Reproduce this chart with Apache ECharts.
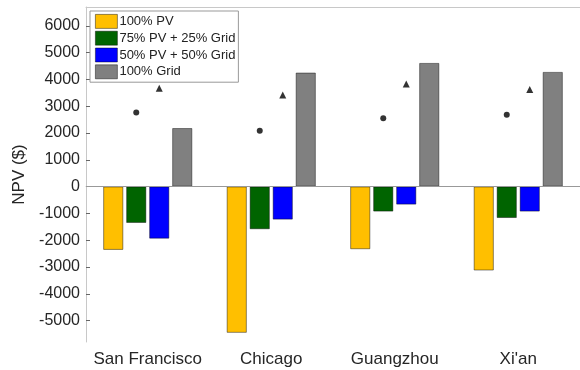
<!DOCTYPE html>
<html>
<head>
<meta charset="utf-8">
<script src="https://cdn.jsdelivr.net/npm/echarts@6/dist/echarts.min.js"></script>
<style>html,body{margin:0;padding:0;background:#fff}#c{width:580px;height:370px}</style>
</head>
<body>
<div id="c"></div>
<script>
const categories = ['San Francisco', 'Chicago', 'Guangzhou', "Xi'an"];
const seriesNames = ['100% PV', '75% PV + 25% Grid', '50% PV + 50% Grid', '100% Grid'];
const pv100 = [-2360, -5455, -2335, -3130];
const pv75grid25 = [-1355, -1590, -930, -1170];
const pv50grid50 = [-1940, -1230, -670, -930];
const grid100 = [2180, 4250, 4610, 4275];
const circleMarks = [2760, 2080, 2550, 2680];
const triangleMarks = [3665, 3420, 3830, 3625];
const yTicks = [-5000, -4000, -3000, -2000, -1000, 0, 1000, 2000, 3000, 4000, 5000, 6000];

const colors = ['#FFBF00', '#006400', '#0000FF', '#808080'];
const font = 'Liberation Sans, Arial, sans-serif';
const chart = echarts.init(document.getElementById('c'));
const barData = [pv100, pv75grid25, pv50grid50, grid100];
const bars = barData.map((d, i) => ({
  name: seriesNames[i], type: 'bar', data: d,
  barWidth: 20, barGap: '15%',
  itemStyle: { color: colors[i], borderColor: 'rgba(0,0,0,0.55)', borderWidth: 0.8 },
  silent: true,
  markLine: i === 0 ? { silent: true, symbol: 'none', label: { show: false },
    lineStyle: { color: '#999', width: 1, type: 'solid' }, data: [{ yAxis: 0 }] } : undefined
}));
chart.setOption({
  animation: false,
  textStyle: { fontFamily: font },
  grid: { left: 86, right: -10, top: 7, bottom: 28 },
  legend: {
    data: seriesNames.map(n => ({ name: n, icon: 'rect' })), orient: 'vertical', left: 90, top: 11,
    itemWidth: 22, itemHeight: 14, itemGap: 2,
    padding: [3, 3, 3, 5],
    backgroundColor: '#fff', borderColor: '#999', borderWidth: 1,
    textStyle: { fontSize: 13, color: '#222', fontFamily: font, padding: [0, 0, 0, -3] },
    itemStyle: { borderColor: 'rgba(0,0,0,0.55)', borderWidth: 0.8 }
  },
  xAxis: [{
    type: 'category', data: categories, position: 'bottom',
    axisLine: { lineStyle: { color: '#c8c8c8' } },
    axisTick: { inside: true, alignWithLabel: true, interval: 0, length: 4, lineStyle: { color: '#666' } },
    axisLabel: { interval: 0, fontSize: 17, color: '#262626', margin: 9, fontFamily: font }
  }, {
    type: 'category', data: categories, position: 'top',
    axisLine: { show: true, lineStyle: { color: '#c8c8c8' } },
    axisTick: { inside: true, alignWithLabel: true, interval: 0, length: 4, lineStyle: { color: '#666' } },
    axisLabel: { show: false }
  }],
  yAxis: {
    type: 'value', min: -5800, max: 6700,
    name: 'NPV ($)', nameLocation: 'middle', nameGap: 52,
    nameTextStyle: { fontSize: 17, color: '#262626', fontFamily: font },
    axisLine: { show: true, lineStyle: { color: '#c8c8c8' } },
    axisTick: { show: true, inside: true, length: 4, customValues: yTicks, lineStyle: { color: '#666' } },
    axisLabel: { fontSize: 16, color: '#262626', margin: 6, customValues: yTicks, fontFamily: font,
      formatter: v => String(v) },
    splitLine: { show: false }
  },
  series: bars.concat([{
    name: 'circle', type: 'scatter', data: circleMarks, symbol: 'circle', symbolSize: 6,
    symbolOffset: [-11.5, 0], itemStyle: { color: '#000' }, silent: true
  }, {
    name: 'triangle', type: 'scatter', data: triangleMarks, symbol: 'triangle', symbolSize: 7,
    symbolOffset: [11.5, 0], itemStyle: { color: '#000' }, silent: true
  }])
});
</script>
</body>
</html>
